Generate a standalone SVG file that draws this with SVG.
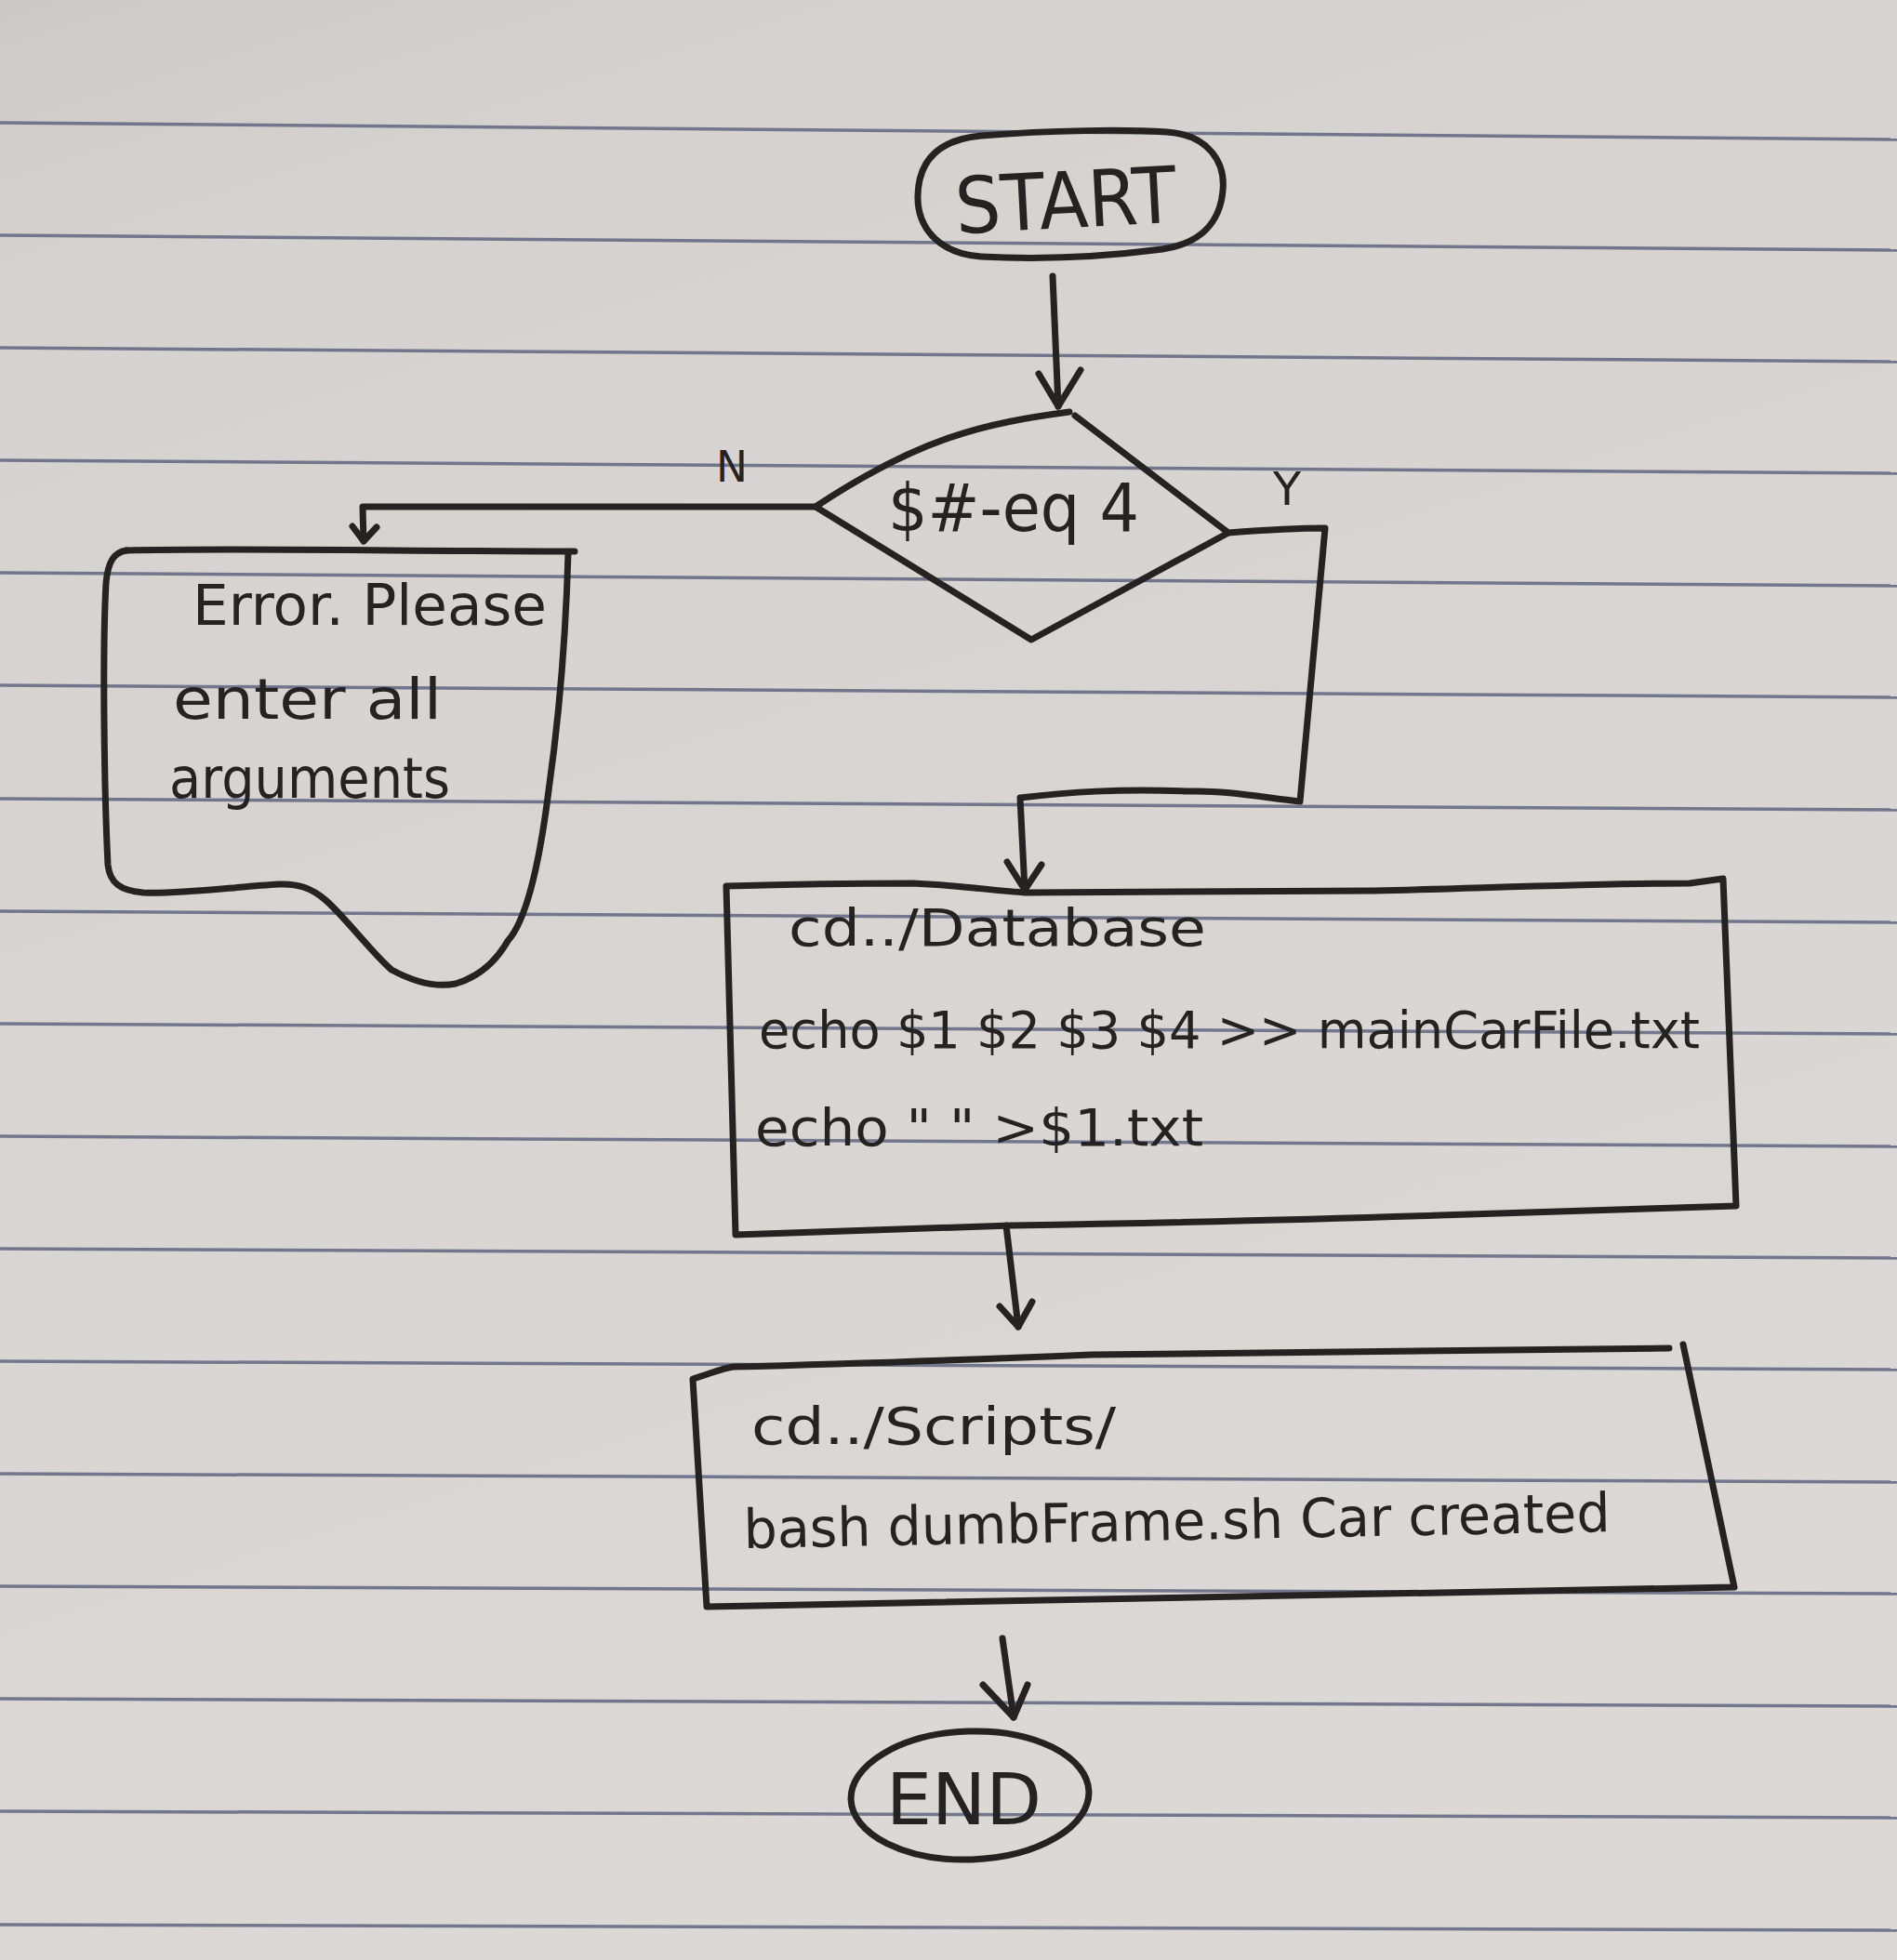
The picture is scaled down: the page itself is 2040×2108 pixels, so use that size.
<svg xmlns="http://www.w3.org/2000/svg" width="2040" height="2108" viewBox="0 0 2040 2108">
<defs>
<linearGradient id="paperGrad" x1="0" y1="0" x2="0.3" y2="1">
<stop offset="0" stop-color="#cdc9c6"/>
<stop offset="0.15" stop-color="#d6d2cf"/>
<stop offset="1" stop-color="#dbd8d5"/>
</linearGradient>
</defs>
<style>
.rule{stroke:#5e6680;stroke-width:3.5;fill:none;opacity:0.85}
.ink{stroke:#262221;stroke-width:7;fill:none;stroke-linecap:round;stroke-linejoin:round}
.txt{font-family:"DejaVu Sans","Liberation Sans",sans-serif;fill:#262221}
</style>
<g id="paper">
<rect x="0" y="0" width="2040" height="2108" fill="url(#paperGrad)"/>
<line class="rule" x1="0" y1="132" x2="2040" y2="150"/>
<line class="rule" x1="0" y1="253" x2="2040" y2="269"/>
<line class="rule" x1="0" y1="374" x2="2040" y2="389"/>
<line class="rule" x1="0" y1="495" x2="2040" y2="509"/>
<line class="rule" x1="0" y1="616" x2="2040" y2="630"/>
<line class="rule" x1="0" y1="737" x2="2040" y2="750"/>
<line class="rule" x1="0" y1="859" x2="2040" y2="871"/>
<line class="rule" x1="0" y1="980" x2="2040" y2="992"/>
<line class="rule" x1="0" y1="1101" x2="2040" y2="1112"/>
<line class="rule" x1="0" y1="1222" x2="2040" y2="1233"/>
<line class="rule" x1="0" y1="1343" x2="2040" y2="1353"/>
<line class="rule" x1="0" y1="1464" x2="2040" y2="1473"/>
<line class="rule" x1="0" y1="1585" x2="2040" y2="1594"/>
<line class="rule" x1="0" y1="1706" x2="2040" y2="1714"/>
<line class="rule" x1="0" y1="1827" x2="2040" y2="1835"/>
<line class="rule" x1="0" y1="1948" x2="2040" y2="1955"/>
<line class="rule" x1="0" y1="2070" x2="2040" y2="2076"/>
</g>

<g id="connectors">
<g id="c-start-decision">
<path class="ink" d="M1132,297 L1138,437"/>
<path class="ink" d="M1117,402 L1138,437 L1162,398"/>
</g>
<g id="c-decision-error">
<path class="ink" d="M877,545 L390,545 L391,582"/>
<path class="ink" d="M379,566 L391,582 L405,567"/>
<text class="txt" x="770" y="518" font-size="46" textLength="34" lengthAdjust="spacingAndGlyphs">N</text>
</g>
<g id="c-decision-database">
<path class="ink" d="M1321,573 C1360,570 1400,568 1425,568 L1398,862 C1360,858 1320,850 1280,851 C1200,848 1150,852 1097,858 L1102,957"/>
<path class="ink" d="M1083,927 L1102,957 L1120,930"/>
<text class="txt" x="1369" y="543" font-size="50" textLength="30" lengthAdjust="spacingAndGlyphs">Y</text>
</g>
<g id="c-database-scripts">
<path class="ink" d="M1082,1318 L1095,1427"/>
<path class="ink" d="M1075,1405 L1095,1427 L1110,1400"/>
</g>
<g id="c-scripts-end">
<path class="ink" d="M1078,1762 L1090,1847"/>
<path class="ink" d="M1057,1812 L1090,1847 L1105,1812"/>
</g>
</g>

<g id="node-start">
<path class="ink" d="M1055,146 C1130,140 1210,139 1255,142 C1300,145 1318,175 1315,205 C1312,240 1290,262 1250,268 C1180,277 1110,279 1055,276 C1010,273 986,245 987,210 C988,172 1010,150 1055,146 Z"/>
<text class="txt" x="1027" y="245" font-size="84" textLength="238" lengthAdjust="spacingAndGlyphs" transform="rotate(-3 1146 215)">START</text>
</g>

<g id="node-decision">
<path class="ink" d="M1150,443 C1060,455 990,470 877,545 L1109,688 L1321,573 L1156,447"/>
<text class="txt" x="955" y="571" font-size="72" textLength="270" lengthAdjust="spacingAndGlyphs">$#-eq 4</text>
</g>

<g id="node-error">
<path class="ink" d="M136,592 C250,589 450,593 618,593"/>
<path class="ink" d="M611,595 C608,700 600,780 590,850 C580,930 566,990 546,1012 C530,1040 510,1052 490,1058 C470,1062 445,1056 421,1043 C400,1025 370,985 350,968 C335,955 320,950 300,951 C250,954 190,962 154,960 C130,958 118,950 116,930 C112,850 110,700 114,627 C116,605 122,594 136,592"/>
<text class="txt" x="207" y="672" font-size="60" textLength="381" lengthAdjust="spacingAndGlyphs">Error. Please</text>
<text class="txt" x="186" y="773" font-size="60" textLength="289" lengthAdjust="spacingAndGlyphs">enter all</text>
<text class="txt" x="182" y="858" font-size="60" textLength="302" lengthAdjust="spacingAndGlyphs">arguments</text>
</g>

<g id="node-database">
<path class="ink" d="M781,953 C850,951 930,950 982,950 C1030,952 1070,958 1103,960 C1250,960 1380,958 1478,958 C1600,955 1720,950 1817,950 L1853,945 L1867,1297 C1760,1300 1650,1304 1548,1307 C1400,1312 1200,1316 1088,1318 C1000,1321 880,1325 791,1328 Z"/>
<text class="txt" x="848" y="1017" font-size="56" textLength="449" lengthAdjust="spacingAndGlyphs">cd../Database</text>
<text class="txt" x="816" y="1127" font-size="56" textLength="1012" lengthAdjust="spacingAndGlyphs">echo $1 $2 $3 $4 &gt;&gt; mainCarFile.txt</text>
<text class="txt" x="812" y="1232" font-size="56" textLength="482" lengthAdjust="spacingAndGlyphs">echo " " &gt;$1.txt</text>
</g>

<g id="node-scripts">
<path class="ink" d="M1810,1446 L1865,1707 C1500,1714 1100,1721 760,1728 L745,1483 C765,1477 778,1471 789,1470 C950,1466 1050,1462 1174,1457 C1400,1455 1600,1452 1795,1450"/>
<text class="txt" x="808" y="1553" font-size="56" textLength="392" lengthAdjust="spacingAndGlyphs">cd../Scripts/</text>
<text class="txt" x="800" y="1665" font-size="58" textLength="932" lengthAdjust="spacingAndGlyphs" transform="rotate(-1.1 800 1665)">bash dumbFrame.sh Car created</text>
</g>

<g id="node-end">
<ellipse class="ink" cx="1043" cy="1931" rx="128" ry="69" transform="rotate(-2 1043 1931)"/>
<text class="txt" x="953" y="1962" font-size="76" textLength="167" lengthAdjust="spacingAndGlyphs">END</text>
</g>
</svg>
